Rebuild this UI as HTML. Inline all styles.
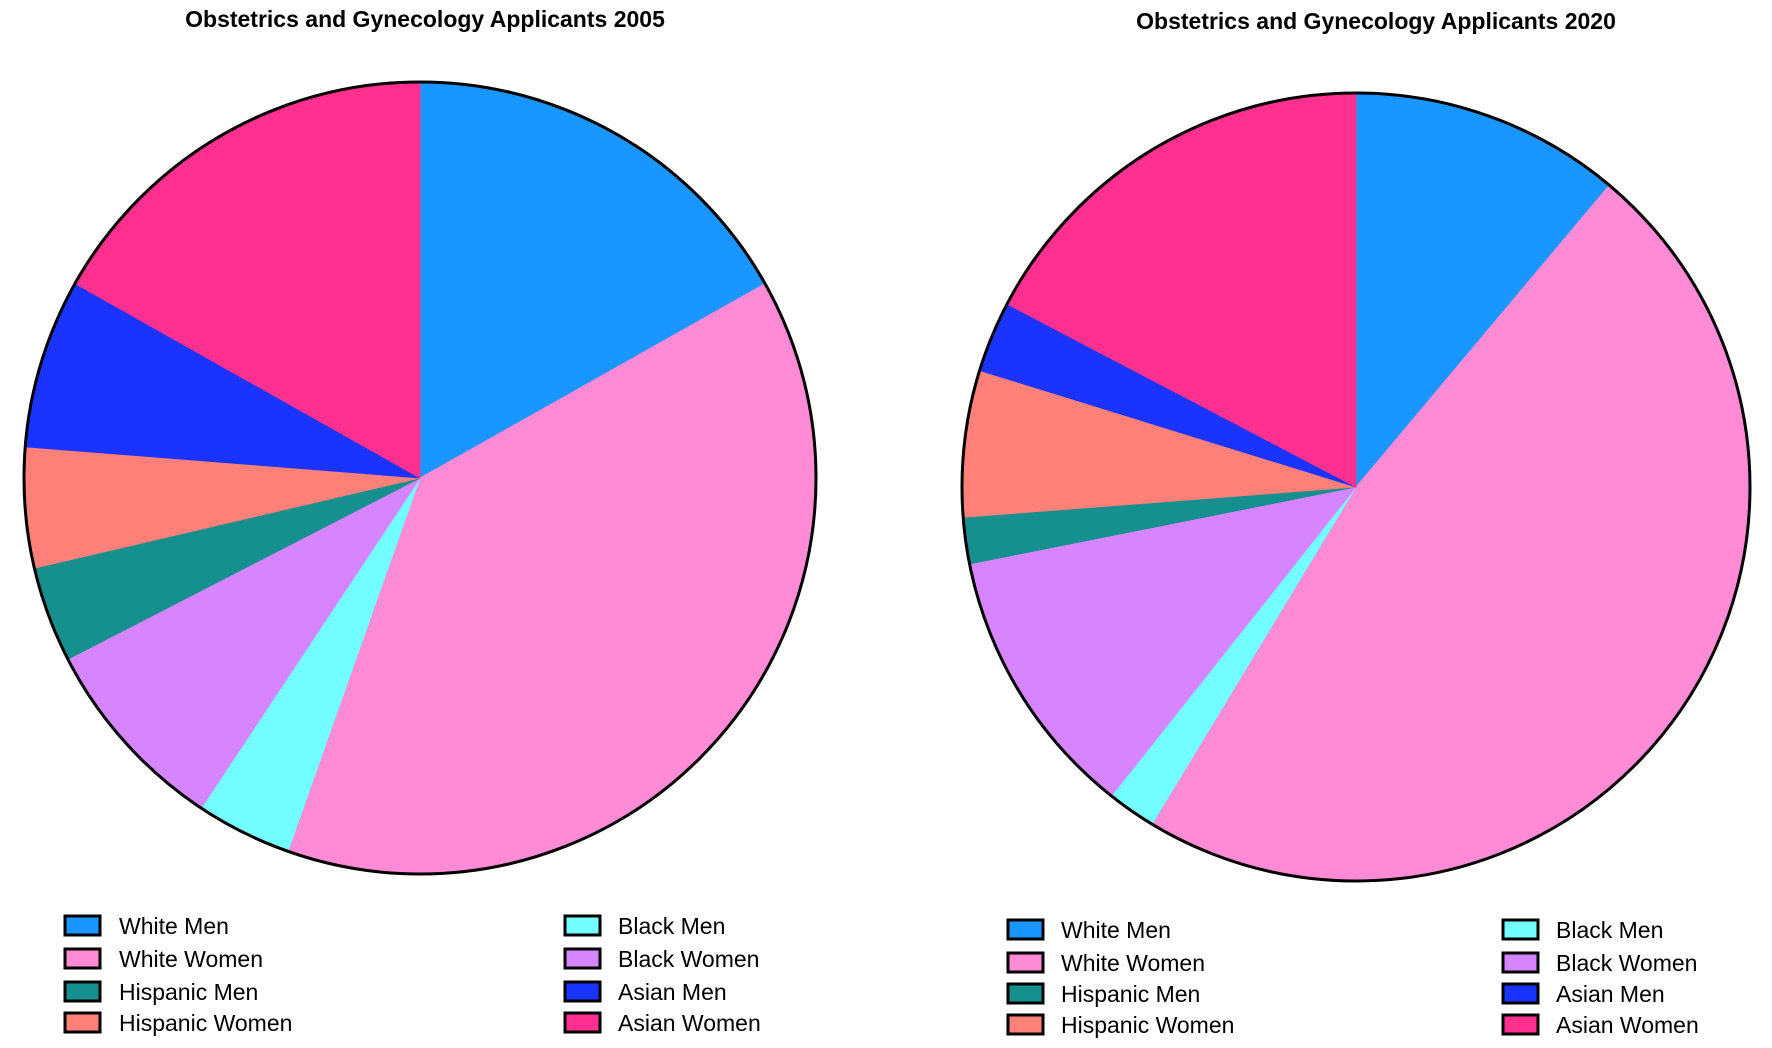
<!DOCTYPE html>
<html><head><meta charset="utf-8">
<style>
html,body{margin:0;padding:0;background:#fff;}
svg{display:block;font-family:"Liberation Sans",Arial,sans-serif;}
</style></head>
<body>
<svg id="chart" width="1772" height="1048" viewBox="0 0 1772 1048">
<text x="425" y="27" text-anchor="middle" font-weight="bold" font-size="23">Obstetrics and Gynecology Applicants 2005</text>
<text x="1376" y="29" text-anchor="middle" font-weight="bold" font-size="23">Obstetrics and Gynecology Applicants 2020</text>
<g id="pie1"></g>
<g id="pie2"></g>
<g id="legend1"></g>
<g id="legend2"></g>
</svg>
<script>
const categories = ["White Men","White Women","Black Men","Black Women","Hispanic Men","Hispanic Women","Asian Men","Asian Women"];
const values2005 = [16.8,38.5,3.9,8.1,3.9,4.9,6.9,16.8];
const values2020 = [11.1,47.5,2.0,11.2,1.9,6.0,2.9,17.3];
const colors = {"White Men":"#1996FF","White Women":"#FF8AD6","Black Men":"#73FFFF","Black Women":"#D685FF","Hispanic Men":"#168F8F","Hispanic Women":"#FF8078","Asian Men":"#1A33FF","Asian Women":"#FF308F"};
const legendOrder = ["White Men","White Women","Hispanic Men","Hispanic Women","Black Men","Black Women","Asian Men","Asian Women"];
const NS="http://www.w3.org/2000/svg";

function drawPie(gid, vals, cx, cy, r, tag){
  const g=document.getElementById(gid);
  const total=vals.reduce((a,b)=>a+b,0);
  let a0=0;
  vals.forEach((v,i)=>{
    const a1=a0+v/total*2*Math.PI;
    const x0=cx+r*Math.sin(a0), y0=cy-r*Math.cos(a0);
    const x1=cx+r*Math.sin(a1), y1=cy-r*Math.cos(a1);
    const large=(a1-a0)>Math.PI?1:0;
    const p=document.createElementNS(NS,"path");
    p.setAttribute("d",`M${cx},${cy} L${x0},${y0} A${r},${r} 0 ${large} 1 ${x1},${y1} Z`);
    p.setAttribute("fill",colors[categories[i]]);
    p.setAttribute("stroke",colors[categories[i]]);
    p.setAttribute("stroke-width","0.8");
    
    
    g.appendChild(p);
    a0=a1;
  });
  const c=document.createElementNS(NS,"circle");
  c.setAttribute("cx",cx);c.setAttribute("cy",cy);c.setAttribute("r",r);
  c.setAttribute("fill","none");c.setAttribute("stroke","#000");c.setAttribute("stroke-width","3");
  
  
  g.appendChild(c);
}
function drawLegend(gid, col1box, col1text, col2box, col2text, rows, tag){
  const g=document.getElementById(gid);
  legendOrder.forEach((name,i)=>{
    const col=i<4?0:1, row=i%4;
    const bx=col?col2box:col1box, tx=col?col2text:col1text, y=rows[row];
    const rc=document.createElementNS(NS,"rect");
    rc.setAttribute("x",bx);rc.setAttribute("y",y-10);rc.setAttribute("width",35);rc.setAttribute("height",19);
    rc.setAttribute("fill",colors[name]);rc.setAttribute("stroke","#000");rc.setAttribute("stroke-width","3");
    
    
    g.appendChild(rc);
    const t=document.createElementNS(NS,"text");
    t.setAttribute("x",tx);t.setAttribute("y",y+8);t.setAttribute("font-size","23");
    t.textContent=name;
    
    
    g.appendChild(t);
  });
}
drawPie("pie1",values2005,420,478,396,"2005");
drawPie("pie2",values2020,1356,487,394,"2020");
drawLegend("legend1",65,119,565,618,[926,959,992,1023],"2005");
drawLegend("legend2",1008,1061,1503,1556,[930,963,994,1025],"2020");
</script>
</body></html>
